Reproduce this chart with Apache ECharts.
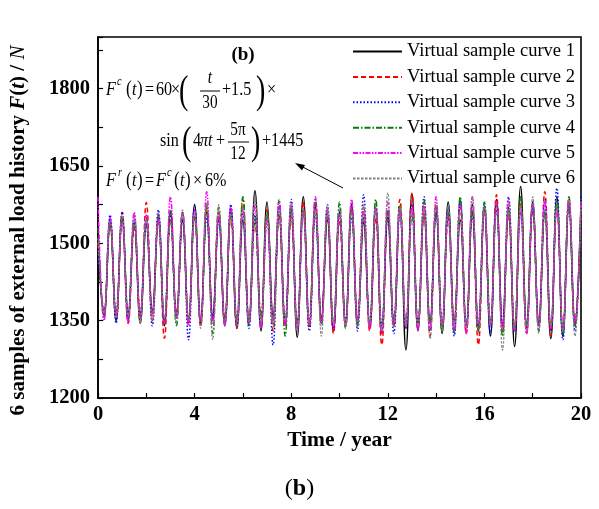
<!DOCTYPE html>
<html>
<head>
<meta charset="utf-8">
<script src="https://cdn.jsdelivr.net/npm/echarts@6/dist/echarts.min.js"></script>
<style>
  html, body { margin: 0; padding: 0; background: #fff; }
  #chart { width: 599px; height: 509px; }
</style>
</head>
<body>
<div id="chart"></div>
<script>
// Sampling step of the load histories (years): alternating crest / trough samples
const STEP = 0.25;

const seriesNames = [
  'Virtual sample curve 1', 'Virtual sample curve 2', 'Virtual sample curve 3',
  'Virtual sample curve 4', 'Virtual sample curve 5', 'Virtual sample curve 6'
];

// One row per year: values at t = k, k+0.25, k+0.5, k+0.75 (last value at t = 20)
const curve1 = [
  1520, 1360, 1545, 1350,  1550, 1365, 1540, 1345,  1535, 1370, 1555, 1340,
  1560, 1355, 1545, 1350,  1575, 1345, 1560, 1360,  1550, 1340, 1565, 1335,
  1545, 1350, 1602, 1330,  1580, 1360, 1555, 1345,  1565, 1318, 1590, 1340,
  1570, 1355, 1545, 1330,  1560, 1345, 1575, 1340,  1540, 1335, 1565, 1325,
  1550, 1340, 1570, 1293,  1596, 1330, 1555, 1345,  1560, 1325, 1580, 1350,
  1545, 1336, 1575, 1330,  1565, 1320, 1585, 1340,  1570, 1300, 1610, 1335,
  1580, 1345, 1560, 1315,  1590, 1320, 1575, 1340,  1560
];
const curve2 = [
  1500, 1365, 1540, 1355,  1560, 1345, 1530, 1360,  1579, 1350, 1550, 1316,
  1545, 1365, 1560, 1345,  1555, 1340, 1570, 1350,  1560, 1355, 1550, 1335,
  1585, 1345, 1540, 1360,  1565, 1330, 1555, 1340,  1550, 1345, 1580, 1335,
  1575, 1350, 1560, 1325,  1545, 1340, 1565, 1355,  1570, 1330, 1550, 1303,
  1560, 1340, 1585, 1335,  1597, 1345, 1560, 1320,  1575, 1335, 1550, 1345,
  1580, 1325, 1560, 1303,  1570, 1340, 1594, 1330,  1555, 1336, 1580, 1325,
  1565, 1340, 1600, 1320,  1570, 1335, 1585, 1345,  1575
];
const curve3 = [
  1480, 1370, 1555, 1345,  1561, 1355, 1545, 1365,  1540, 1340, 1565, 1350,
  1555, 1360, 1545, 1313,  1570, 1345, 1550, 1355,  1545, 1350, 1575, 1340,
  1560, 1335, 1555, 1345,  1550, 1303, 1570, 1350,  1585, 1340, 1560, 1330,
  1555, 1345, 1575, 1335,  1565, 1350, 1550, 1330,  1594, 1345, 1570, 1340,
  1555, 1325, 1560, 1335,  1575, 1340, 1590, 1330,  1560, 1345, 1570, 1320,
  1585, 1335, 1555, 1340,  1575, 1325, 1565, 1345,  1590, 1330, 1560, 1335,
  1570, 1340, 1585, 1330,  1607, 1313, 1575, 1330,  1590
];
const curve4 = [
  1530, 1355, 1535, 1370,  1545, 1350, 1555, 1355,  1550, 1365, 1540, 1345,
  1565, 1340, 1560, 1355,  1550, 1350, 1575, 1325,  1570, 1345, 1560, 1350,
  1590, 1340, 1550, 1355,  1560, 1345, 1585, 1320,  1570, 1335, 1565, 1350,
  1585, 1340, 1555, 1345,  1580, 1335, 1570, 1345,  1550, 1340, 1585, 1330,
  1565, 1350, 1575, 1340,  1555, 1335, 1585, 1345,  1570, 1330, 1560, 1325,
  1590, 1340, 1565, 1335,  1580, 1345, 1575, 1320,  1565, 1335, 1590, 1340,
  1575, 1330, 1560, 1335,  1580, 1325, 1590, 1340,  1570
];
const curve5 = [
  1590, 1350, 1550, 1360,  1540, 1345, 1560, 1355,  1555, 1360, 1545, 1345,
  1590, 1355, 1560, 1340,  1565, 1350, 1600, 1345,  1555, 1340, 1570, 1350,
  1565, 1345, 1575, 1335,  1545, 1350, 1580, 1340,  1575, 1330, 1560, 1345,
  1590, 1345, 1565, 1335,  1555, 1340, 1585, 1350,  1561, 1335, 1570, 1325,
  1580, 1345, 1565, 1340,  1570, 1330, 1575, 1335,  1590, 1340, 1555, 1330,
  1575, 1325, 1590, 1345,  1560, 1340, 1580, 1335,  1585, 1330, 1565, 1325,
  1575, 1340, 1580, 1335,  1565, 1330, 1585, 1345,  1580
];
const curve6 = [
  1510, 1365, 1545, 1355,  1555, 1360, 1550, 1345,  1545, 1350, 1560, 1355,
  1540, 1345, 1565, 1350,  1560, 1335, 1580, 1313,  1575, 1345, 1555, 1340,
  1570, 1350, 1590, 1345,  1555, 1335, 1560, 1350,  1580, 1330, 1570, 1340,
  1565, 1320, 1575, 1345,  1570, 1340, 1560, 1335,  1575, 1345, 1565, 1330,
  1598, 1335, 1570, 1340,  1565, 1340, 1560, 1315,  1580, 1330, 1575, 1345,
  1560, 1335, 1590, 1325,  1570, 1340, 1560, 1293,  1580, 1335, 1575, 1330,
  1590, 1325, 1565, 1340,  1575, 1330, 1585, 1320,  1585
];

const curves = [curve1, curve2, curve3, curve4, curve5, curve6];
const colors = ['#000000', '#ff0000', '#0000ff', '#008000', '#ff00ff', '#808080'];
const dashes = ['solid', [5, 3], [1.5, 2], [6, 2, 1.5, 2], [5, 1.5, 1.5, 1.5, 1.5, 1.5], [2.5, 1.5]];
const widths = [1.5, 1.5, 1.5, 1.5, 1.5, 1.2];

const xTickLabels = [0, 4, 8, 12, 16, 20];
const yTickLabels = [1200, 1350, 1500, 1650, 1800];

const SERIF = '"Liberation Serif", "Times New Roman", serif';

const series = curves.map((vals, i) => ({
  name: seriesNames[i],
  type: 'line',
  data: vals.map((v, k) => [k * STEP, v]),
  smooth: 0.45,
  symbol: 'none',
  color: colors[i],
  lineStyle: { color: colors[i], width: widths[i], type: dashes[i] },
  z: 2 + i
}));

// Formula annotation pieces (narrow serif, as typeset in the equation editor)
const SX = 0.85;
function txt(x, y, text, size, style, weight, align, sx) {
  return {
    type: 'text', x: x, y: y, z: 50,
    scaleX: sx === undefined ? SX : sx,
    style: {
      text: text,
      font: (style || 'normal') + ' ' + (weight || 'normal') + ' ' + size + 'px ' + SERIF,
      fill: '#000',
      textAlign: align || 'left',
      textVerticalAlign: 'middle'
    }
  };
}
function hline(x1, x2, y) {
  return { type: 'line', z: 50, shape: { x1: x1, y1: y, x2: x2, y2: y }, style: { stroke: '#000', lineWidth: 1 } };
}

const formula = [
  txt(243, 55, '(b)', 19, 'normal', 'bold', 'center', 1),
  // F^c(t) = 60 × ( t/30 + 1.5 ) ×
  txt(106, 90, 'F', 19, 'italic'),
  txt(117, 82, 'c', 12, 'italic'),
  txt(126, 90, '(', 20),
  txt(132, 90, 't', 19, 'italic'),
  txt(137, 90, ')', 20),
  txt(145, 90, '=', 19),
  txt(156, 90, '60', 19),
  txt(171, 90, '×', 19),
  txt(179, 92, '(', 40, 'normal', 'normal', 'left', 0.7),
  txt(210, 78, 't', 18, 'italic', 'normal', 'center'),
  hline(200, 220, 91),
  txt(210, 103, '30', 18, 'normal', 'normal', 'center'),
  txt(222, 90, '+1.5', 19),
  txt(256, 92, ')', 40, 'normal', 'normal', 'left', 0.7),
  txt(267, 90, '×', 19),
  // sin( 4πt + 5π/12 ) + 1445
  txt(160, 141, 'sin', 19),
  txt(182, 143, '(', 40, 'normal', 'normal', 'left', 0.7),
  txt(193, 141, '4', 19),
  txt(200, 141, 'πt', 19, 'italic'),
  txt(216, 141, '+', 19),
  txt(238, 130, '5π', 18, 'normal', 'normal', 'center'),
  hline(228, 249, 142),
  txt(238, 154, '12', 18, 'normal', 'normal', 'center'),
  txt(251, 143, ')', 40, 'normal', 'normal', 'left', 0.7),
  txt(262, 141, '+1445', 19),
  // F^r(t) = F^c(t) × 6%
  txt(106, 181, 'F', 19, 'italic'),
  txt(118, 173, 'r', 12, 'italic'),
  txt(126, 181, '(', 20),
  txt(132, 181, 't', 19, 'italic'),
  txt(137, 181, ')', 20),
  txt(145, 181, '=', 19),
  txt(156, 181, 'F', 19, 'italic'),
  txt(167, 173, 'c', 12, 'italic'),
  txt(174, 181, '(', 20),
  txt(180, 181, 't', 19, 'italic'),
  txt(185, 181, ')', 20),
  txt(193, 181, '×', 19),
  txt(205, 181, '6%', 19),
  // arrow pointing at the formula
  { type: 'line', z: 50, shape: { x1: 343, y1: 188, x2: 299, y2: 165 }, style: { stroke: '#000', lineWidth: 1 } },
  { type: 'polygon', z: 50, shape: { points: [[295, 163], [305, 165], [302, 170.5]] }, style: { fill: '#000' } },
  // panel caption
  {
    type: 'text', left: 'center', top: 477, z: 50,
    style: {
      text: '{p|(}{b|b}{p|)}',
      rich: {
        p: { font: 'normal 24px ' + SERIF, fill: '#000' },
        b: { font: 'bold 24px ' + SERIF, fill: '#000' }
      }
    }
  }
];

const chart = echarts.init(document.getElementById('chart'), null, { renderer: 'canvas' });
chart.setOption({
  animation: false,
  backgroundColor: '#fff',
  grid: { left: 97, right: 18, top: 37, bottom: 111, show: true, borderColor: '#000', borderWidth: 1.6, backgroundColor: 'transparent' },
  legend: {
    orient: 'vertical',
    left: 347, top: 37,
    itemWidth: 49, itemHeight: 12, itemGap: 6.4,
    itemStyle: { opacity: 0, color: 'transparent', borderWidth: 0 },
    textStyle: { fontFamily: SERIF, fontSize: 18.5, color: '#000' },
    data: seriesNames
  },
  xAxis: {
    type: 'value', min: 0, max: 20, interval: 2,
    name: 'Time / year', nameLocation: 'middle', nameGap: 30,
    nameTextStyle: { fontFamily: SERIF, fontWeight: 'bold', fontSize: 21.5, color: '#000' },
    axisLine: { lineStyle: { color: '#000', width: 1.6 } },
    axisTick: { inside: true, length: 5, lineStyle: { color: '#000', width: 1.2 } },
    axisLabel: {
      fontFamily: SERIF, fontWeight: 'bold', fontSize: 20.5, color: '#000', margin: 6,
      formatter: v => xTickLabels.indexOf(v) >= 0 ? String(v) : ''
    },
    splitLine: { show: false }
  },
  yAxis: {
    type: 'value', min: 1200, max: 1900, interval: 75,
    name: '{b|6 samples of external load history }{bi|F}{b|(}{bi|t}{b|) / }{i|N}',
    nameLocation: 'middle', nameGap: 69, nameRotate: 90,
    nameTextStyle: {
      color: '#000',
      padding: [0, 26, 0, 0],
      rich: {
        b: { fontFamily: SERIF, fontWeight: 'bold', fontSize: 21, color: '#000' },
        bi: { fontFamily: SERIF, fontWeight: 'bold', fontStyle: 'italic', fontSize: 21, color: '#000' },
        i: { fontFamily: SERIF, fontStyle: 'italic', fontSize: 21, color: '#000' }
      }
    },
    axisLine: { show: true, lineStyle: { color: '#000', width: 1.6 } },
    axisTick: { show: true, inside: true, length: 5, lineStyle: { color: '#000', width: 1.2 } },
    axisLabel: {
      fontFamily: SERIF, fontWeight: 'bold', fontSize: 20.5, color: '#000', margin: 8,
      formatter: v => yTickLabels.indexOf(v) >= 0 ? String(v) : ''
    },
    splitLine: { show: false }
  },
  graphic: formula,
  series: series
});
</script>
</body>
</html>
